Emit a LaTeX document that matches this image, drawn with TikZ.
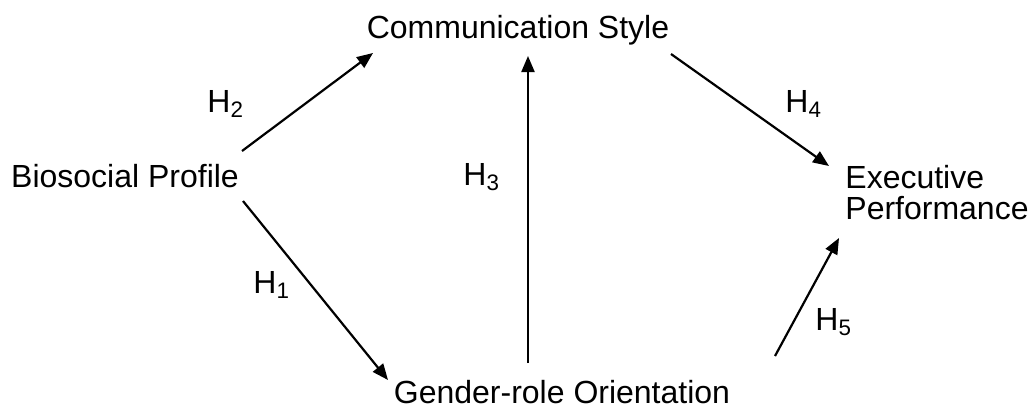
\documentclass[tikz,border=0pt]{standalone}
\usepackage{fontspec}
\setmainfont{Liberation Sans}
\usetikzlibrary{arrows.meta}
\begin{document}
\begin{tikzpicture}[x=0.5pt,y=-0.5pt,
  lbl/.style={inner sep=0pt,font=\fontsize{16}{15.5}\selectfont},
  conn/.style={line width=1.1pt,-{Triangle[length=8pt,width=6.5pt]}}]
\useasboundingbox (0,0) rectangle (1028,409);
\node[lbl,anchor=base] (comm) at (518,38) {Communication Style};
\node[lbl,anchor=base] (bio) at (125,187) {Biosocial Profile};
\node[lbl,anchor=base] (gend) at (562,403) {Gender-role Orientation};
\node[lbl,anchor=base west,align=left] (exec) at (845,219) {Executive\\Performance};
\node[lbl,anchor=base west] (h2) at (207,112) {H\textsubscript{2}};
\node[lbl,anchor=base west] (h4) at (785,112) {H\textsubscript{4}};
\node[lbl,anchor=base west] (h3) at (463,185) {H\textsubscript{3}};
\node[lbl,anchor=base west] (h1) at (253,293) {H\textsubscript{1}};
\node[lbl,anchor=base west] (h5) at (815,330) {H\textsubscript{5}};
\coordinate (bioNE) at (242,151);
\coordinate (commW) at (373,53);
\coordinate (bioSE) at (243,201);
\coordinate (gendW) at (388,380);
\coordinate (gendN) at (528,363);
\coordinate (commS) at (528,56);
\coordinate (commE) at (671,54);
\coordinate (execNW) at (829,166);
\coordinate (gendE) at (775,356);
\coordinate (execSW) at (839,238);
\draw[conn] (bioNE) -- (commW);
\draw[conn] (bioSE) -- (gendW);
\draw[conn] (gendN) -- (commS);
\draw[conn] (commE) -- (execNW);
\draw[conn] (gendE) -- (execSW);
\end{tikzpicture}
\end{document}
